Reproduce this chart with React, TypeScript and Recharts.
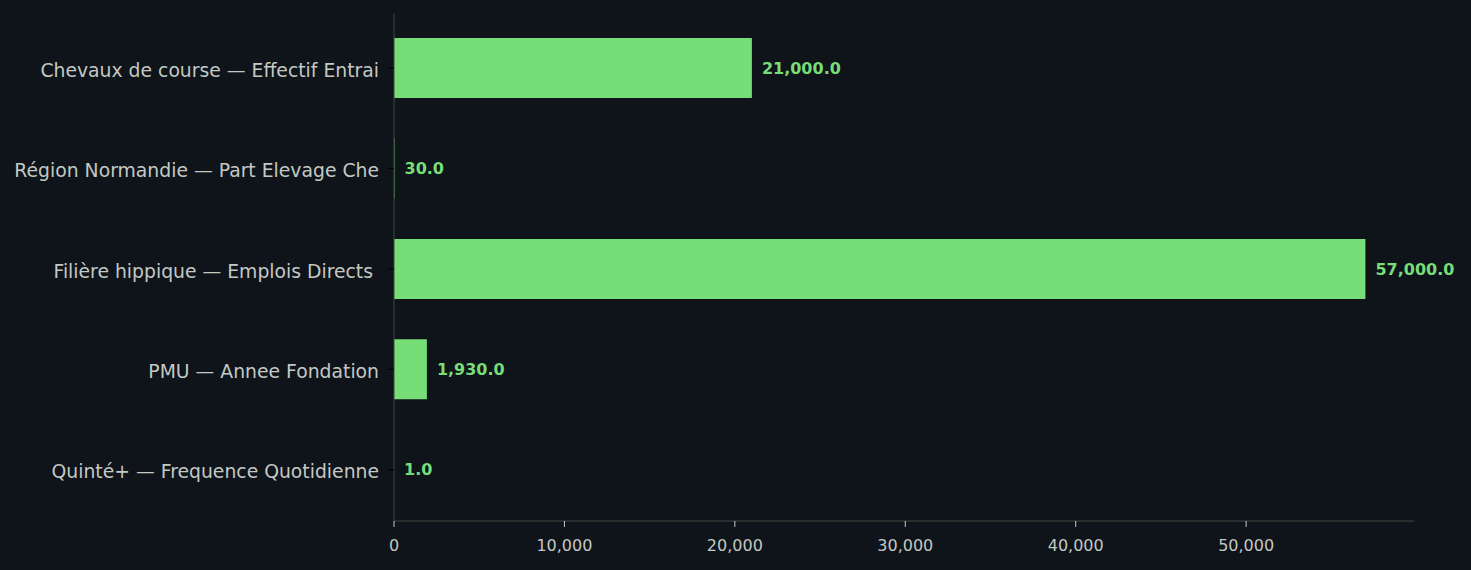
import React from 'react';
import { BarChart, Bar, XAxis, YAxis, LabelList } from 'recharts';

const categories = [
  'Chevaux de course — Effectif Entrai',
  'Région Normandie — Part Elevage Che',
  'Filière hippique — Emplois Directs ',
  'PMU — Annee Fondation',
  'Quinté+ — Frequence Quotidienne',
];
const values = [21000, 30, 57000, 1930, 1];
const xTicks = [0, 10000, 20000, 30000, 40000, 50000];

const data = categories.map((name, i) => ({ name, value: values[i] }));

const BG = '#0f131a';
const GREEN = '#77dd77';
const AXIS = '#3b4a3e';
const TEXT = '#c3c9c3';
const font = 'DejaVu Sans, sans-serif';

const fmtTick = (v: number) => v.toLocaleString('en-US');
const fmtLabel = (v: any) =>
  Number(v).toLocaleString('en-US', { minimumFractionDigits: 1, maximumFractionDigits: 1 });

const App: React.FC = () => {
  return (
    <div style={{ position: 'absolute', left: 0, top: 0, width: 1471, height: 570, background: BG }}>
      <BarChart
        width={1471}
        height={570}
        data={data}
        layout="vertical"
        barCategoryGap="20%"
        margin={{ top: 14, right: 57, left: 0, bottom: 0 }}
      >
        <XAxis
          type="number"
          domain={[0, 59850]}
          ticks={xTicks}
          tickFormatter={fmtTick}
          height={49}
          stroke={AXIS}
          tickLine={{ stroke: TEXT }}
          tick={{ fill: TEXT, fontSize: 16, fontFamily: font }}
          tickSize={6}
          tickMargin={13}
        />
        <YAxis
          type="category"
          dataKey="name"
          width={394}
          padding={{ top: 4, bottom: 1 }}
          stroke={AXIS}
          tickLine={{ stroke: '#000000' }}
          tick={{ fill: TEXT, fontSize: 18.8, fontFamily: font, dy: 2, style: { whiteSpace: 'pre' } }}
          tickSize={6}
          tickMargin={9}
        />
        <Bar dataKey="value" fill={GREEN} isAnimationActive={false}>
          <LabelList
            dataKey="value"
            position="right"
            offset={10}
            formatter={fmtLabel}
            fill={GREEN}
            style={{ fontSize: 16, fontWeight: 'bold', fontFamily: font }}
          />
        </Bar>
      </BarChart>
    </div>
  );
};

export default App;
